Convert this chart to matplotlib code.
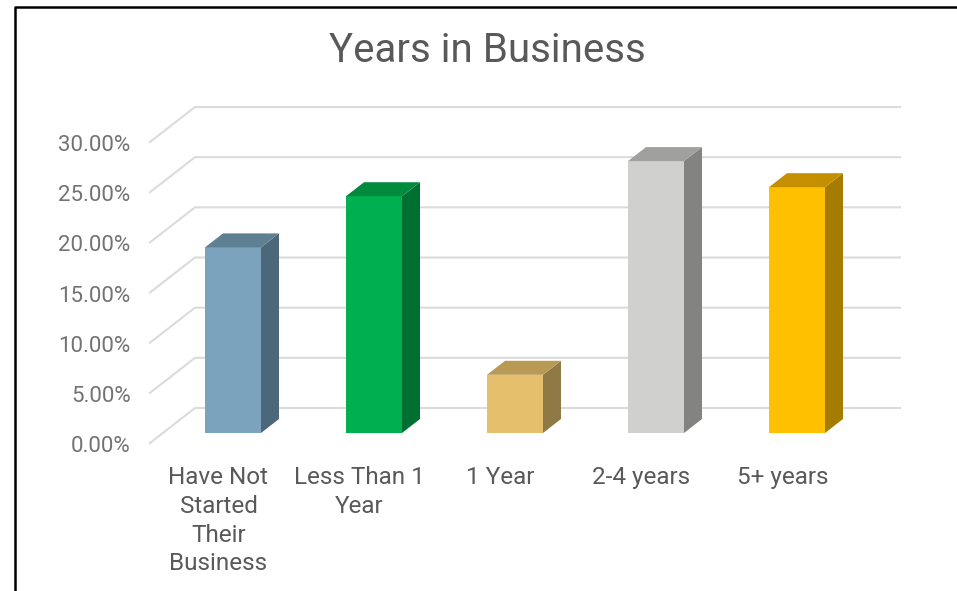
import matplotlib
matplotlib.use('Agg')
import matplotlib.pyplot as plt
from matplotlib.lines import Line2D
from matplotlib.transforms import ScaledTranslation

plt.rcParams['font.family'] = ['Roboto', 'DejaVu Sans']

# data
categories = ['Have Not\nStarted\nTheir\nBusiness', 'Less Than 1\nYear', '1 Year', '2-4 years', '5+ years']
values = [18.5, 23.6, 5.8, 27.1, 24.5]
y_ticks = [0, 5, 10, 15, 20, 25, 30]

front_colors = ['#7BA3BE', '#00B050', '#E5BF6B', '#D0D0CE', '#FFC000']
side_colors = ['#4C6779', '#006F32', '#8F7A45', '#838381', '#A67C00']
top_colors = ['#5F7F93', '#008A3E', '#B89A55', '#A0A09E', '#C49000']

W, H = 957, 591
fig = plt.figure(figsize=(W / 100, H / 100), dpi=100)

# axes is the plane of the bar fronts
left, right, bottom, top = 162.5, 867.5, 433, 132
ax = fig.add_axes([left / W, 1 - bottom / H, (right - left) / W, (bottom - top) / H])
ax.set_xlim(-0.5, 4.5)
ax.set_ylim(0, 30)
ax.patch.set_visible(False)
for s in ax.spines.values():
    s.set_visible(False)

# one pixel in data units
px = 5 / (right - left)
py = 30 / (bottom - top)

# walls
for v in y_ticks:
    ax.plot([-0.5 - 12.5 * px, -0.5 + 32.5 * px, 4.5 + 32.5 * px],
            [v - 10 * py, v + 25 * py, v + 25 * py],
            color='#DBDBDB', lw=1.5, clip_on=False, zorder=1)

# bars with fake depth
bar_w = 56 * px
dx = 18 * px
dy = 14 * py
ax.bar(range(5), values, width=bar_w, color=front_colors, zorder=3)
for i, v in enumerate(values):
    x0 = i - bar_w / 2
    x1 = i + bar_w / 2
    ax.fill([x1, x1 + dx, x1 + dx, x1], [0, dy, v + dy, v], color=side_colors[i], lw=0, zorder=3, clip_on=False)
    ax.fill([x0, x1, x1 + dx, x0 + dx], [v, v, v + dy, v + dy], color=top_colors[i], lw=0, zorder=3, clip_on=False)

# tick labels
ax.set_yticks(y_ticks)
ax.set_yticklabels([f'{v:.2f}%' for v in y_ticks], fontsize=16, color='#737373')
ax.set_xticks(range(5))
ax.set_xticklabels(categories, fontsize=17.5, color='#595959', linespacing=1.33)
ax.tick_params(length=0)
ax.tick_params(axis='y', pad=23)
ax.tick_params(axis='x', pad=23.5)
for lab in ax.get_yticklabels():
    lab.set_transform(lab.get_transform() + ScaledTranslation(0, -11 / 100, fig.dpi_scale_trans))
for lab in ax.get_xticklabels():
    lab.set_transform(lab.get_transform() + ScaledTranslation(-14.5 / 100, 0, fig.dpi_scale_trans))

fig.text(487 / W, 1 - 50 / H, 'Years in Business', ha='center', va='center', fontsize=29, color='#595959')

# screenshot border
fig.add_artist(Line2D([15 / W, 15 / W, 1], [0, 1 - 7 / H, 1 - 7 / H], color='black', lw=1.8))

fig.savefig('out.png', dpi=100)
